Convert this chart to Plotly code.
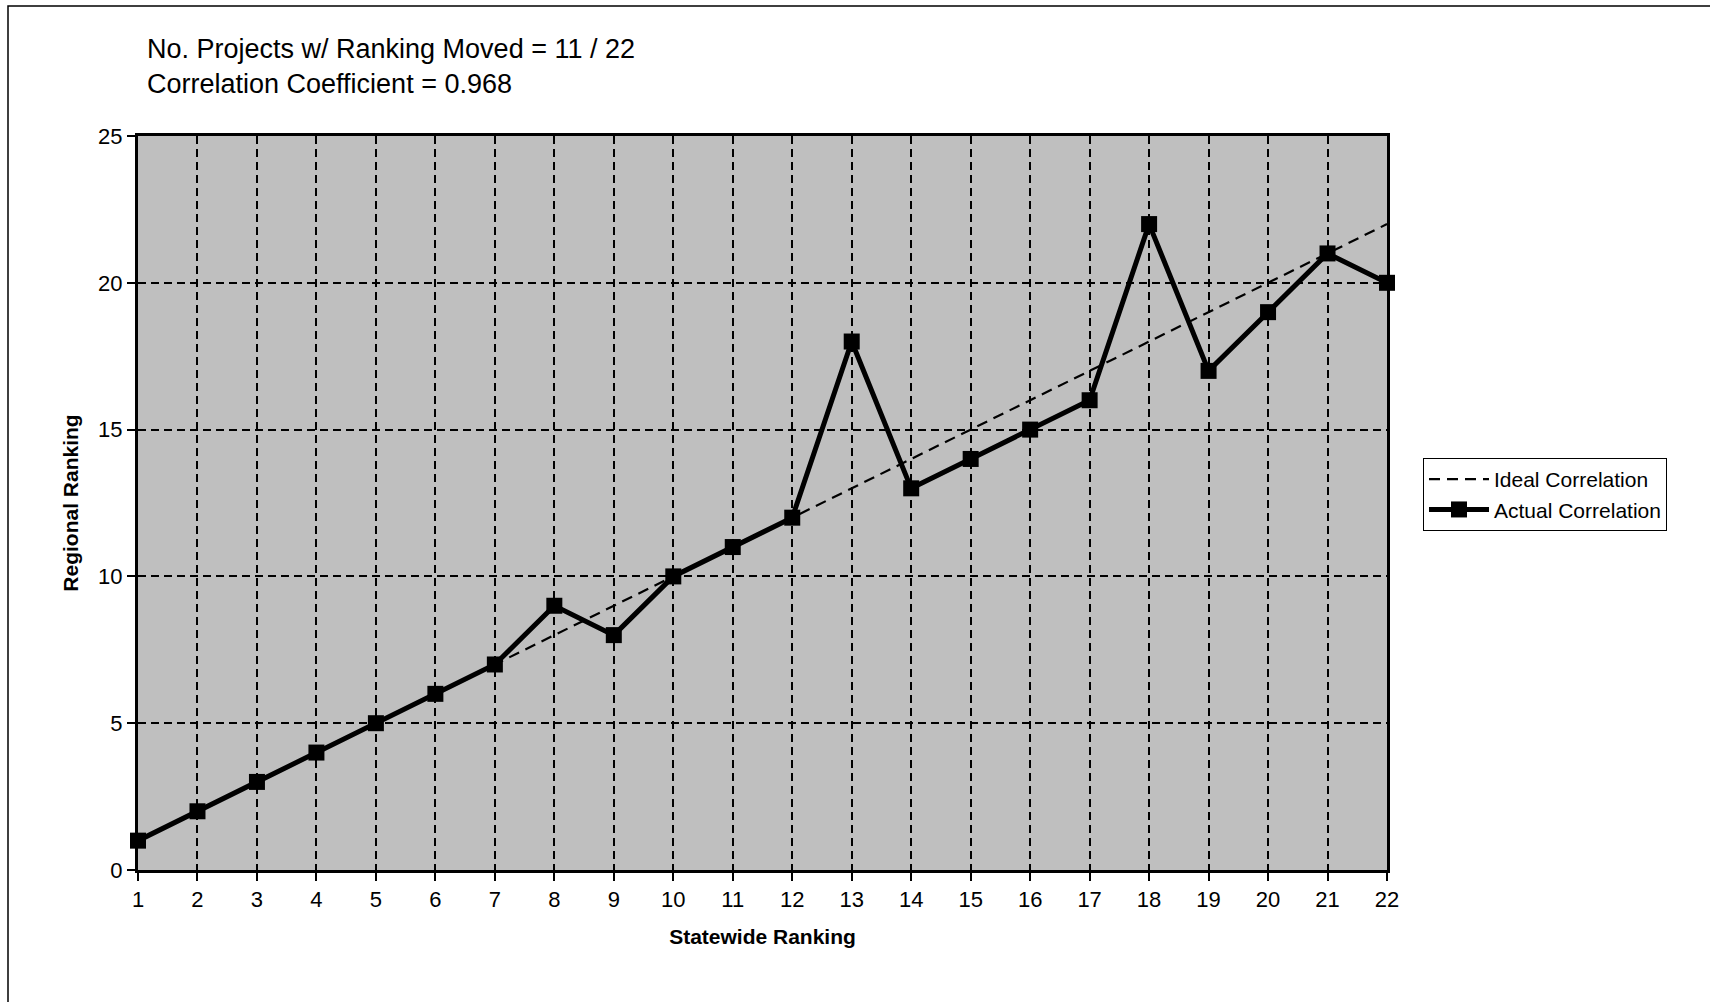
import plotly.graph_objects as go

statewide = list(range(1, 23))
ideal = list(range(1, 23))
actual = [1, 2, 3, 4, 5, 6, 7, 9, 8, 10, 11, 12, 18, 13, 14, 15, 16, 22, 17, 19, 21, 20]
y_ticks = [0, 5, 10, 15, 20, 25]

W, H = 1710, 1002
L, R, T, B = 138, 323, 136, 132
pw, ph = W - L - R, H - T - B

def px(x):
    return (x - L) / pw

def py(y):
    return 1 - (y - T) / ph

fig = go.Figure()
fig.add_trace(go.Scatter(
    x=statewide, y=ideal, mode="lines", name="Ideal Correlation",
    line=dict(color="black", width=2.2, dash="11px,7px"), cliponaxis=False))
fig.add_trace(go.Scatter(
    x=statewide, y=actual, mode="lines+markers", name="Actual Correlation",
    line=dict(color="black", width=5),
    marker=dict(symbol="square", size=16, color="black"), cliponaxis=False))

fig.update_layout(
    width=W, height=H,
    margin=dict(l=L, r=R, t=T, b=B),
    paper_bgcolor="white", plot_bgcolor="#bfbfbf",
    font=dict(family="Liberation Sans, Arial", color="black", size=20),
    showlegend=True,
    legend=dict(x=px(1423), y=py(458), xanchor="left", yanchor="top",
                bordercolor="black", borderwidth=1, bgcolor="white",
                font=dict(size=21), tracegroupgap=0, itemwidth=60),
    xaxis=dict(range=[1, 22], tickmode="array", tickvals=statewide,
               showgrid=True, gridcolor="black", gridwidth=1.5, griddash="8px,5px",
               showline=True, linecolor="black", linewidth=3, mirror=True,
               ticks="outside", ticklen=8, tickwidth=1.5, tickcolor="black",
               zeroline=False, tickfont=dict(size=22),
               title=dict(text="<b>Statewide Ranking</b>", font=dict(size=21), standoff=18)),
    yaxis=dict(range=[0, 25], tickmode="array", tickvals=y_ticks,
               showgrid=True, gridcolor="black", gridwidth=1.5, griddash="8px,5px",
               showline=True, linecolor="black", linewidth=3, mirror=True,
               ticks="outside", ticklen=8, tickwidth=1.5, tickcolor="black",
               zeroline=False, tickfont=dict(size=22),
               title=dict(text="<b>Regional Ranking</b>", font=dict(size=21), standoff=14)),
    annotations=[dict(
        text="No. Projects w/ Ranking Moved = 11 / 22<br>Correlation Coefficient = 0.968",
        xref="paper", yref="paper", x=px(145), y=py(32), xanchor="left", yanchor="top",
        align="left", showarrow=False, font=dict(size=27))],
    shapes=[dict(type="rect", xref="paper", yref="paper",
                 x0=px(8), x1=px(1715), y0=py(6), y1=py(1010),
                 line=dict(color="black", width=1.5), fillcolor="rgba(0,0,0,0)", layer="below")],
)

fig.write_html("out.html")
